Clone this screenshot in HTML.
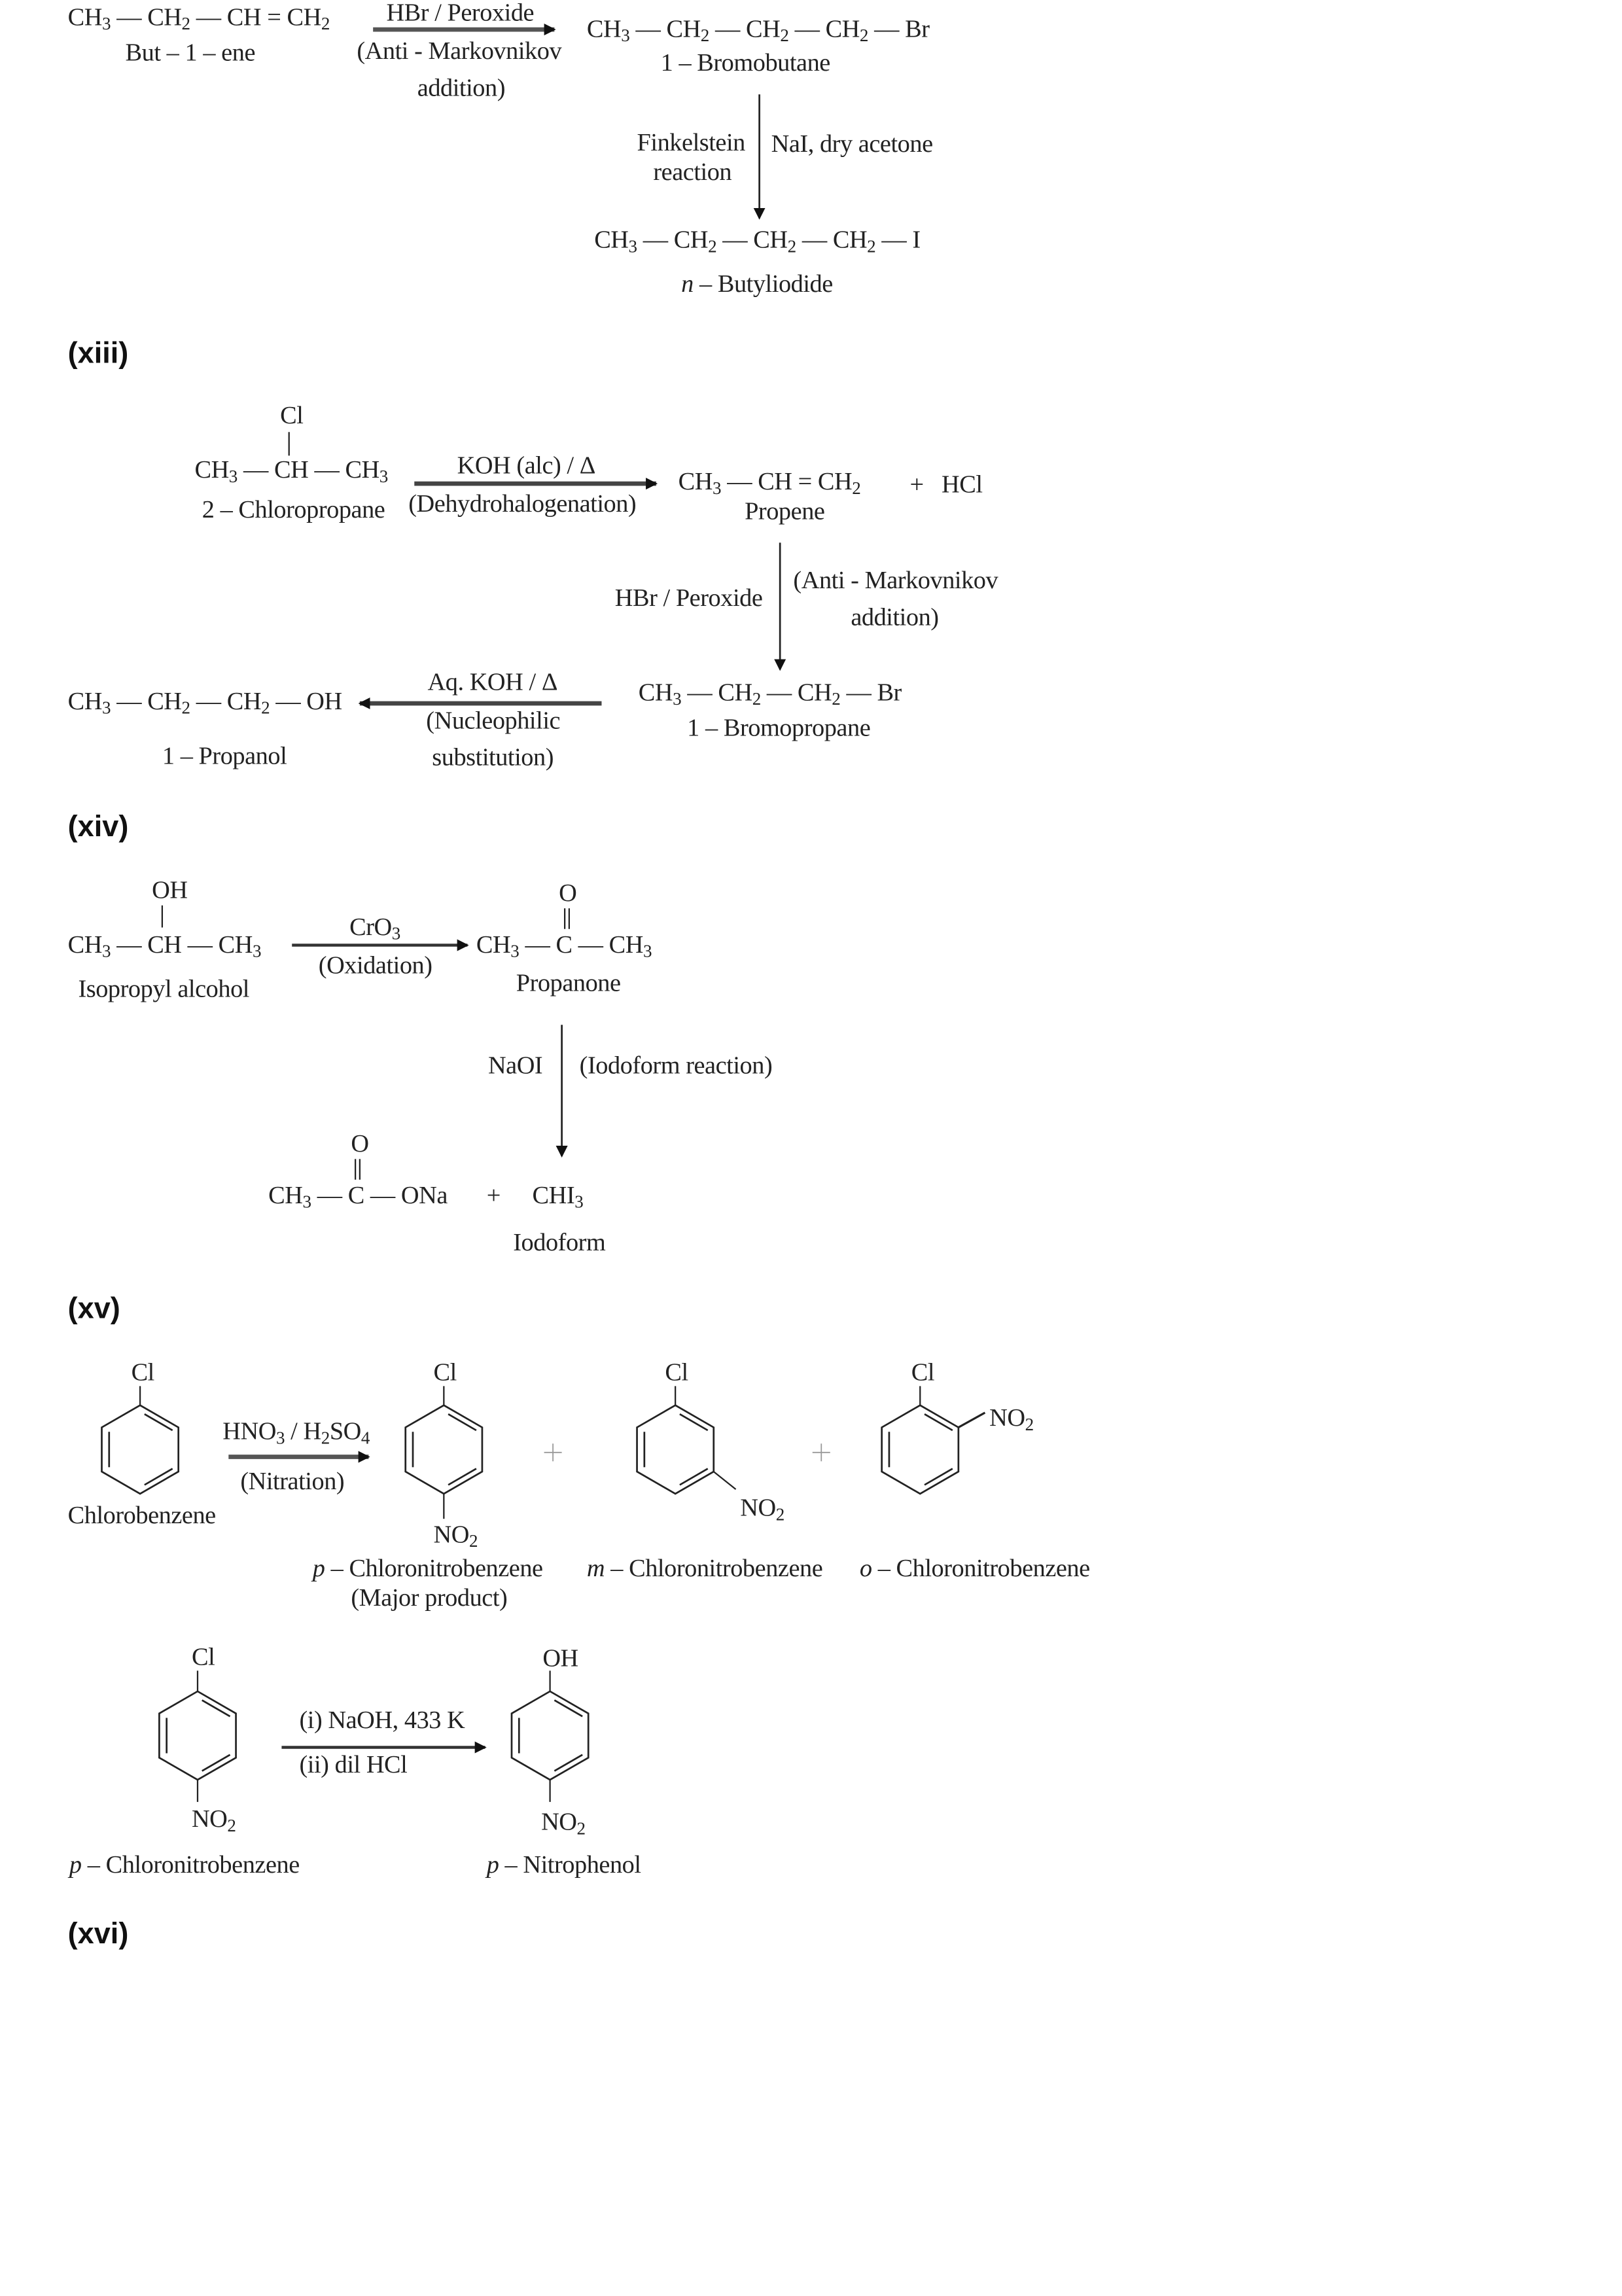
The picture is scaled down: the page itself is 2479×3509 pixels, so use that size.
<!DOCTYPE html>
<html><head><meta charset="utf-8"><style>
html,body{margin:0;padding:0;background:#fff;}
body{width:2479px;height:3508px;overflow:hidden;position:relative;}
#c{position:absolute;left:0;top:0;width:1100px;height:1557px;transform:scale(2.2536);transform-origin:0 0;}
.t{position:absolute;white-space:nowrap;font-family:"Liberation Serif",serif;font-size:17px;line-height:20px;color:#222;letter-spacing:-0.2px;}
.t sub{font-size:12px;vertical-align:-3px;line-height:0;}
.h{position:absolute;font-family:"Liberation Sans",sans-serif;font-weight:bold;font-size:20px;line-height:22px;color:#111;}
svg{position:absolute;left:0;top:0;}
</style></head><body><div id="c">
<svg width="1100" height="1557" viewBox="0 0 1100 1557">
<defs>
<marker id="a" markerWidth="8" markerHeight="8" refX="7" refY="4" orient="auto" markerUnits="userSpaceOnUse"><path d="M0,0 L8,4 L0,8 z" fill="#111"/></marker>
<g id="hex" stroke="#222" stroke-width="1.2" fill="none">
<path d="M0,-30 L26,-15 L26,15 L0,30 L-26,15 L-26,-15 Z"/>
<line x1="3" y1="-24" x2="22" y2="-13"/>
<line x1="-21" y1="-12" x2="-21" y2="12"/>
<line x1="22" y1="13" x2="3" y2="24"/>
</g>
</defs>
<g stroke="#222" fill="none">
<line x1="253" y1="20" x2="376" y2="20" stroke-width="3" stroke="#555" marker-end="url(#a)"/>
<line x1="515" y1="64" x2="515" y2="148" stroke-width="1.2" marker-end="url(#a)"/>
<line x1="196" y1="293" x2="196" y2="309" stroke-width="1"/>
<line x1="281" y1="328" x2="445" y2="328" stroke-width="3" stroke="#444" marker-end="url(#a)"/>
<line x1="529" y1="368" x2="529" y2="454" stroke-width="1.2" marker-end="url(#a)"/>
<line x1="408" y1="477" x2="244" y2="477" stroke-width="3" stroke="#444" marker-end="url(#a)"/>
<line x1="110" y1="614" x2="110" y2="629" stroke-width="1"/>
<line x1="198" y1="641" x2="317" y2="641" stroke-width="2" stroke="#333" marker-end="url(#a)"/>
<line x1="383" y1="616" x2="383" y2="630" stroke-width="1"/><line x1="386" y1="616" x2="386" y2="630" stroke-width="1"/>
<line x1="381" y1="695" x2="381" y2="784" stroke-width="1.2" marker-end="url(#a)"/>
<line x1="241" y1="786" x2="241" y2="800" stroke-width="1"/><line x1="244" y1="786" x2="244" y2="800" stroke-width="1"/>
<line x1="155" y1="988" x2="250" y2="988" stroke-width="3" stroke="#555" marker-end="url(#a)"/>
<line x1="95" y1="940" x2="95" y2="953" stroke-width="1"/>
<line x1="301" y1="940" x2="301" y2="953" stroke-width="1"/>
<line x1="301" y1="1013" x2="301" y2="1030" stroke-width="1"/>
<line x1="458" y1="940" x2="458" y2="953" stroke-width="1"/>
<line x1="484" y1="998" x2="499" y2="1010" stroke-width="1"/>
<line x1="624" y1="940" x2="624" y2="953" stroke-width="1"/>
<line x1="650" y1="968" x2="668" y2="958" stroke-width="1.4"/>
<line x1="375" y1="979" x2="375" y2="991" stroke-width="0.8" stroke="#999"/><line x1="369" y1="985" x2="381" y2="985" stroke-width="0.8" stroke="#999"/>
<line x1="557" y1="979" x2="557" y2="991" stroke-width="0.8" stroke="#999"/><line x1="551" y1="985" x2="563" y2="985" stroke-width="0.8" stroke="#999"/>
<line x1="134" y1="1133" x2="134" y2="1147" stroke-width="1"/>
<line x1="134" y1="1207" x2="134" y2="1222" stroke-width="1"/>
<line x1="191" y1="1185" x2="329" y2="1185" stroke-width="2" stroke="#333" marker-end="url(#a)"/>
<line x1="373" y1="1133" x2="373" y2="1147" stroke-width="1"/>
<line x1="373" y1="1207" x2="373" y2="1222" stroke-width="1"/>
</g>
<use href="#hex" x="95" y="983"/>
<use href="#hex" x="301" y="983"/>
<use href="#hex" x="458" y="983"/>
<use href="#hex" x="624" y="983"/>
<use href="#hex" x="134" y="1177"/>
<use href="#hex" x="373" y="1177"/>
</svg>

<div class="t" style="left:46px;top:2px">CH<sub>3</sub> — CH<sub>2</sub> — CH = CH<sub>2</sub></div>
<div class="t" style="left:85px;top:26px">But – 1 – ene</div>
<div class="t" style="left:262px;top:-1px">HBr / Peroxide</div>
<div class="t" style="left:242px;top:25px">(Anti - Markovnikov</div>
<div class="t" style="left:283px;top:50px">addition)</div>
<div class="t" style="left:398px;top:10px">CH<sub>3</sub> — CH<sub>2</sub> — CH<sub>2</sub> — CH<sub>2</sub> — Br</div>
<div class="t" style="left:448px;top:33px">1 – Bromobutane</div>
<div class="t" style="left:432px;top:87px">Finkelstein</div>
<div class="t" style="left:443px;top:107px">reaction</div>
<div class="t" style="left:523px;top:88px">NaI, dry acetone</div>
<div class="t" style="left:403px;top:153px">CH<sub>3</sub> — CH<sub>2</sub> — CH<sub>2</sub> — CH<sub>2</sub> — I</div>
<div class="t" style="left:462px;top:183px"><i>n</i> – Butyliodide</div>
<div class="h" style="left:46px;top:229px">(xiii)</div>

<div class="t" style="left:190px;top:272px">Cl</div>
<div class="t" style="left:132px;top:309px">CH<sub>3</sub> — CH — CH<sub>3</sub></div>
<div class="t" style="left:137px;top:336px">2 – Chloropropane</div>
<div class="t" style="left:310px;top:306px">KOH (alc) / Δ</div>
<div class="t" style="left:277px;top:332px">(Dehydrohalogenation)</div>
<div class="t" style="left:460px;top:317px">CH<sub>3</sub> — CH = CH<sub>2</sub></div>
<div class="t" style="left:617px;top:319px">+&nbsp;&nbsp; HCl</div>
<div class="t" style="left:505px;top:337px">Propene</div>
<div class="t" style="left:417px;top:396px">HBr / Peroxide</div>
<div class="t" style="left:538px;top:384px">(Anti - Markovnikov</div>
<div class="t" style="left:577px;top:409px">addition)</div>
<div class="t" style="left:433px;top:460px">CH<sub>3</sub> — CH<sub>2</sub> — CH<sub>2</sub> — Br</div>
<div class="t" style="left:466px;top:484px">1 – Bromopropane</div>
<div class="t" style="left:290px;top:453px">Aq. KOH / Δ</div>
<div class="t" style="left:289px;top:479px">(Nucleophilic</div>
<div class="t" style="left:293px;top:504px">substitution)</div>
<div class="t" style="left:46px;top:466px">CH<sub>3</sub> — CH<sub>2</sub> — CH<sub>2</sub> — OH</div>
<div class="t" style="left:110px;top:503px">1 – Propanol</div>
<div class="h" style="left:46px;top:550px">(xiv)</div>

<div class="t" style="left:103px;top:594px">OH</div>
<div class="t" style="left:46px;top:631px">CH<sub>3</sub> — CH — CH<sub>3</sub></div>
<div class="t" style="left:53px;top:661px">Isopropyl alcohol</div>
<div class="t" style="left:237px;top:619px">CrO<sub>3</sub></div>
<div class="t" style="left:216px;top:645px">(Oxidation)</div>
<div class="t" style="left:379px;top:596px">O</div>
<div class="t" style="left:323px;top:631px">CH<sub>3</sub> — C — CH<sub>3</sub></div>
<div class="t" style="left:350px;top:657px">Propanone</div>
<div class="t" style="left:331px;top:713px">NaOI</div>
<div class="t" style="left:393px;top:713px">(Iodoform reaction)</div>
<div class="t" style="left:238px;top:766px">O</div>
<div class="t" style="left:182px;top:801px">CH<sub>3</sub> — C — ONa</div>
<div class="t" style="left:330px;top:801px">+</div>
<div class="t" style="left:361px;top:801px">CHI<sub>3</sub></div>
<div class="t" style="left:348px;top:833px">Iodoform</div>
<div class="h" style="left:46px;top:877px">(xv)</div>

<div class="t" style="left:89px;top:921px">Cl</div>
<div class="t" style="left:46px;top:1018px">Chlorobenzene</div>
<div class="t" style="left:151px;top:961px">HNO<sub>3</sub> / H<sub>2</sub>SO<sub>4</sub></div>
<div class="t" style="left:163px;top:995px">(Nitration)</div>
<div class="t" style="left:294px;top:921px">Cl</div>
<div class="t" style="left:294px;top:1031px">NO<sub>2</sub></div>
<div class="t" style="left:212px;top:1054px"><i>p</i> – Chloronitrobenzene</div>
<div class="t" style="left:238px;top:1074px">(Major product)</div>
<div class="t" style="left:451px;top:921px">Cl</div>
<div class="t" style="left:502px;top:1013px">NO<sub>2</sub></div>
<div class="t" style="left:398px;top:1054px"><i>m</i> – Chloronitrobenzene</div>
<div class="t" style="left:618px;top:921px">Cl</div>
<div class="t" style="left:671px;top:952px">NO<sub>2</sub></div>
<div class="t" style="left:583px;top:1054px"><i>o</i> – Chloronitrobenzene</div>
<div class="t" style="left:130px;top:1114px">Cl</div>
<div class="t" style="left:130px;top:1224px">NO<sub>2</sub></div>
<div class="t" style="left:47px;top:1255px"><i>p</i> – Chloronitrobenzene</div>
<div class="t" style="left:203px;top:1157px">(i) NaOH, 433 K</div>
<div class="t" style="left:203px;top:1187px">(ii) dil HCl</div>
<div class="t" style="left:368px;top:1115px">OH</div>
<div class="t" style="left:367px;top:1226px">NO<sub>2</sub></div>
<div class="t" style="left:330px;top:1255px"><i>p</i> – Nitrophenol</div>
<div class="h" style="left:46px;top:1301px">(xvi)</div>
</div></body></html>
